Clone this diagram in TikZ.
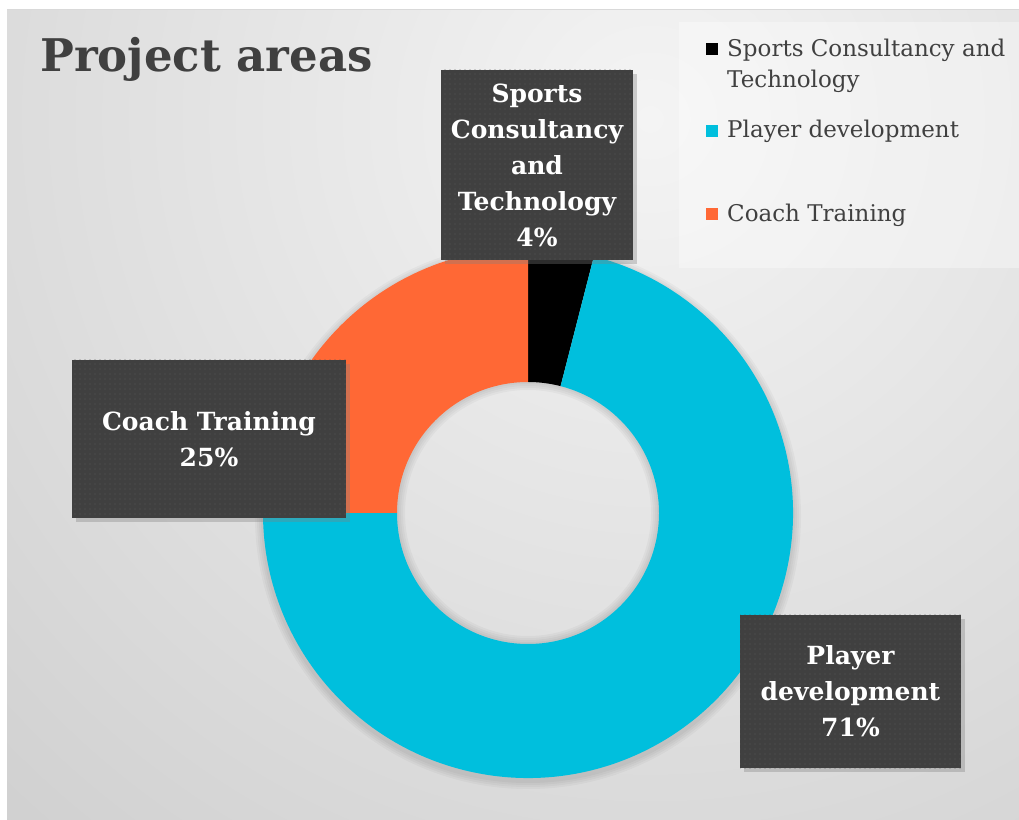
\documentclass[tikz,border=0pt]{standalone}
\usepackage{fontspec}
\setmainfont{DejaVu Serif}
\usetikzlibrary{shadows,patterns.meta}
\definecolor{ink}{HTML}{404040}
\definecolor{boxbg}{HTML}{404040}
\definecolor{segblack}{HTML}{000000}
\definecolor{segcyan}{HTML}{00BFDD}
\definecolor{segorange}{HTML}{FF6835}
\definecolor{bglight}{HTML}{F4F4F4}
\definecolor{bgdark}{HTML}{C9C9C9}
\tikzset{
  pctbox/.style={fill=boxbg, text=white, align=center, inner sep=0pt,
    font=\fontsize{25}{36}\selectfont\bfseries,
    drop shadow={shadow xshift=4pt, shadow yshift=-4pt, opacity=0.35},
    postaction={pattern={Dots[distance=5pt,radius=0.6pt]}, pattern color=white!12!boxbg}},
  key/.style={minimum size=12pt, inner sep=0pt},
  keytxt/.style={text=ink, align=left, inner sep=0pt, font=\fontsize{23}{31}\selectfont},
}

\begin{document}
\begin{tikzpicture}[x=1pt,y=1pt]
  \def\R{265}
  \def\r{131}
  \useasboundingbox (0,0) rectangle (1019,819);
  % chart area
  \begin{scope}
    \clip (7,0) rectangle (1019,809);
    \shade[inner color=bglight, outer color=bgdark] (650,700) circle (1150);
  \end{scope}
  \draw[black!15, line width=1pt] (7,809) -- (1019,809);
  \fill[white, opacity=0.35] (679,551) rectangle (1019,797);
  \node[anchor=base west, inner sep=0pt, text=ink,
    font=\fontsize{45}{60}\selectfont\bfseries] (title) at (40,747) {Project areas};
  % donut
  \begin{scope}[shift={(528,306)}]
    \foreach \s in {2,4,6,8}
      \fill[black, opacity=0.03, even odd rule] (0,-3) circle (\R+\s) (0,0) circle (\r-\s);
    \foreach \a/\b/\c in {90/75.6/segblack, 75.6/-180/segcyan, 180/90/segorange}
      \fill[\c] (\a:\R) arc[start angle=\a, end angle=\b, radius=\R]
        -- (\b:\r) arc[start angle=\b, end angle=\a, radius=\r] -- cycle;
  \end{scope}
  % data labels
  \node[pctbox, minimum width=192pt, minimum height=190pt] (lSports) at (537,654)
    {Sports\\Consultancy\\and\\Technology\\4\%};
  \node[pctbox, minimum width=274pt, minimum height=158pt] (lCoach) at (209,380)
    {Coach Training\\25\%};
  \node[pctbox, minimum width=221pt, minimum height=153pt] (lPlayer) at (850.5,127.5)
    {Player\\development\\71\%};
  % legend
  \node[key, fill=segblack] (kSports) at (712,770) {};
  \node[key, fill=segcyan] (kPlayer) at (712,687.5) {};
  \node[key, fill=segorange] (kCoach) at (712,604.5) {};
  \node[keytxt, anchor=north west] (tSports) at (727,780) {Sports Consultancy and\\Technology};
  \node[keytxt, anchor=base west] (tPlayer) at (727,681) {Player development};
  \node[keytxt, anchor=base west] (tCoach) at (727,597) {Coach Training};
\end{tikzpicture}
\end{document}
